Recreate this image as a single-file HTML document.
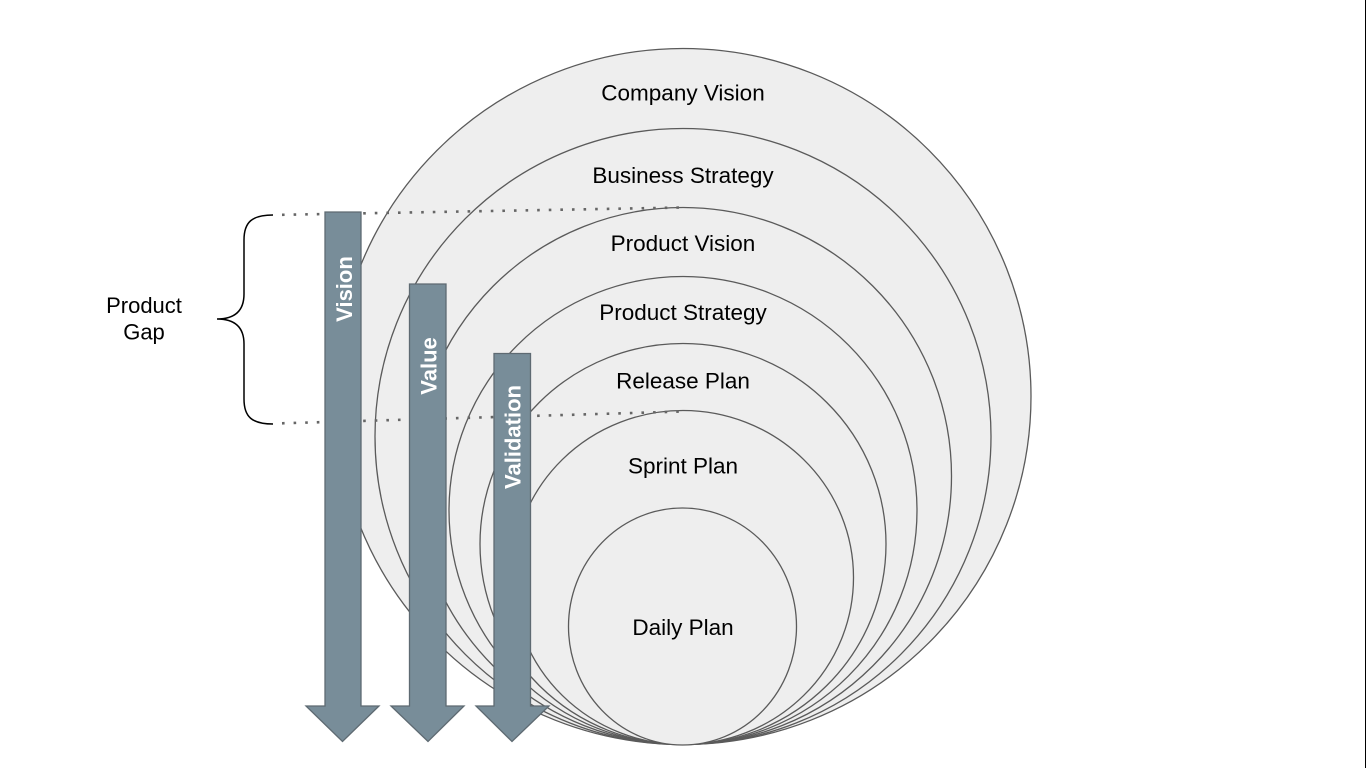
<!DOCTYPE html>
<html>
<head>
<meta charset="utf-8">
<style>
  html, body { margin:0; padding:0; background:#fff; }
  svg { display:block; }
  text { font-family: "Liberation Sans", Arial, sans-serif; }
</style>
</head>
<body>
<svg width="1366" height="768" viewBox="0 0 1366 768" xmlns="http://www.w3.org/2000/svg">
  <rect x="0" y="0" width="1366" height="768" fill="#ffffff"/>
  <line x1="1365.5" y1="0" x2="1365.5" y2="768" stroke="#000" stroke-width="1"/>

  <!-- Concentric tangent circles -->
  <g fill="#eeeeee" stroke="#5a5a5a" stroke-width="1.3">
    <circle cx="683" cy="396.5" r="348"/>
    <circle cx="683" cy="436.5" r="308"/>
    <circle cx="683" cy="476" r="268.5"/>
    <circle cx="683" cy="510.5" r="234"/>
    <ellipse cx="683" cy="544" rx="203" ry="200.5"/>
    <ellipse cx="683" cy="577.5" rx="170.5" ry="167"/>
    <ellipse cx="682.5" cy="626.5" rx="114" ry="118.5"/>
  </g>

  <!-- Dotted lines -->
  <g stroke="#666" stroke-width="2.6" stroke-dasharray="2.6 9" fill="none">
    <line x1="282" y1="214.8" x2="683" y2="207.5"/>
    <line x1="282" y1="423.3" x2="683" y2="411.5"/>
  </g>

  <!-- Brace -->
  <path d="M273,215 C252,215 244,222 244,240 L244,294 C244,310 236,319 217,319 C236,319 244,328 244,344 L244,399 C244,417 252,424 273,424" fill="none" stroke="#000" stroke-width="1.5"/>

  <!-- Arrows -->
  <g fill="#788d99" stroke="#5e6a72" stroke-width="1.3" stroke-linejoin="miter">
    <polygon points="325,212 361,212 361,706 379,706 342.5,741.5 306,706 325,706"/>
    <polygon points="409.5,284 446,284 446,706 464,706 428,741.5 391,706 409.5,706"/>
    <polygon points="494,353.5 530.5,353.5 530.5,706 549,706 512,741.5 476,706 494,706"/>
  </g>

  <!-- Arrow labels -->
  <g fill="#ffffff" font-weight="bold" font-size="22" text-anchor="middle">
    <text transform="translate(352,289) rotate(-90)">Vision</text>
    <text transform="translate(436.5,366) rotate(-90)">Value</text>
    <text transform="translate(520.5,437) rotate(-90)">Validation</text>
  </g>

  <!-- Circle labels -->
  <g fill="#000" font-size="22.5" text-anchor="middle">
    <text x="683" y="100.5">Company Vision</text>
    <text x="683" y="183">Business Strategy</text>
    <text x="683" y="251">Product Vision</text>
    <text x="683" y="320">Product Strategy</text>
    <text x="683" y="388.5">Release Plan</text>
    <text x="683" y="473.5">Sprint Plan</text>
    <text x="683" y="635">Daily Plan</text>
  </g>

  <!-- Product Gap -->
  <g fill="#000" font-size="22" text-anchor="middle">
    <text x="144" y="313">Product</text>
    <text x="144" y="339.5">Gap</text>
  </g>
</svg>
</body>
</html>
